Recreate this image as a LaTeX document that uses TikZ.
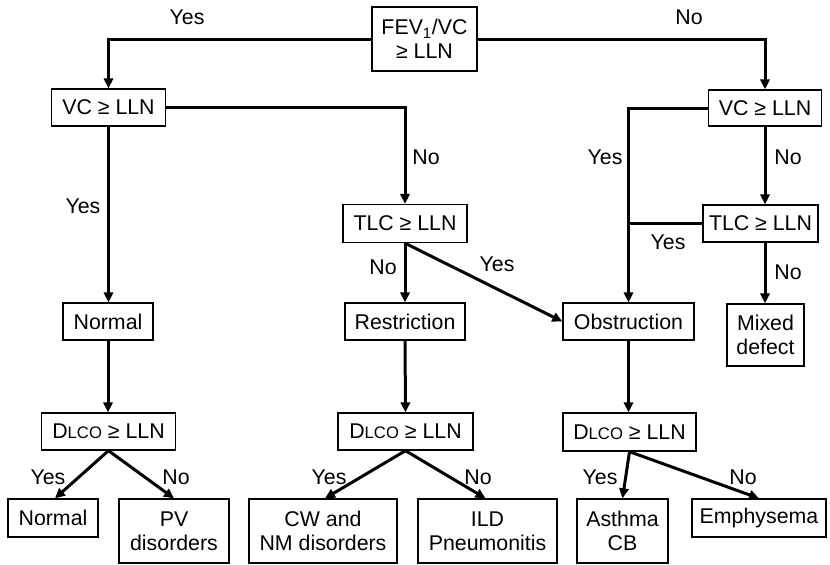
\documentclass[tikz,border=0pt]{standalone}
\usepackage{fontspec}
\setmainfont{Liberation Sans}
\usetikzlibrary{arrows.meta}
\newcommand{\dlco}{D{\fontsize{12.5}{14}\selectfont LCO}}
\begin{document}
\begin{tikzpicture}[x=0.75pt,y=-0.75pt,
  box/.style={draw, line width=1pt, inner sep=0pt, align=center, font=\fontsize{16}{19}\selectfont},
  conn/.style={line width=2.25pt},
  arr/.style={line width=2.25pt, -{Triangle[length=7.5pt,width=7pt]}},
  lbl/.style={font=\fontsize{16}{19}\selectfont, inner sep=0pt}]
\useasboundingbox (0,0) rectangle (830,564);
% nodes
\node[box, minimum width=105*0.75pt, minimum height=64*0.75pt] (fev) at (424.5,39) {FEV\textsubscript{1}/VC\\[-1pt]≥ LLN};
\node[box, minimum width=114*0.75pt, minimum height=37*0.75pt] (vc1) at (108.5,107.5) {VC ≥ LLN};
\node[box, minimum width=113*0.75pt, minimum height=36*0.75pt] (vc2) at (765,108) {VC ≥ LLN};
\node[box, minimum width=124*0.75pt, minimum height=38*0.75pt] (tlc1) at (405,223.5) {TLC ≥ LLN};
\node[box, minimum width=115*0.75pt, minimum height=37*0.75pt] (tlc2) at (760.5,223.5) {TLC ≥ LLN};
\node[box, minimum width=90*0.75pt, minimum height=37*0.75pt] (norm1) at (108,321.5) {Normal};
\node[box, minimum width=120*0.75pt, minimum height=37*0.75pt] (restr) at (405,321.5) {Restriction};
\node[box, minimum width=131*0.75pt, minimum height=37*0.75pt] (obst) at (628.5,321.5) {Obstruction};
\node[box, minimum width=77*0.75pt, minimum height=62*0.75pt] (mixed) at (765.5,335) {Mixed\\[-1pt]defect};
\node[box, minimum width=134*0.75pt, minimum height=37*0.75pt] (dl1) at (108.5,431.5) {\dlco{} ≥ LLN};
\node[box, minimum width=135*0.75pt, minimum height=37*0.75pt] (dl2) at (405.5,431.5) {\dlco{} ≥ LLN};
\node[box, minimum width=133*0.75pt, minimum height=38*0.75pt] (dl3) at (629.5,432) {\dlco{} ≥ LLN};
\node[box, minimum width=90*0.75pt, minimum height=38*0.75pt] (normal2) at (53,518) {Normal};
\node[box, minimum width=110*0.75pt, minimum height=64*0.75pt] (pv) at (174,531) {PV\\[-1pt]disorders};
\node[box, minimum width=148*0.75pt, minimum height=64*0.75pt] (cw) at (323,531) {CW and\\[-1pt]NM disorders};
\node[box, minimum width=139*0.75pt, minimum height=64*0.75pt] (ild) at (487.5,531) {ILD\\[-1pt]Pneumonitis};
\node[box, minimum width=91*0.75pt, minimum height=64*0.75pt] (asth) at (622.5,531) {Asthma\\[-1pt]CB};
\node[box, minimum width=134*0.75pt, minimum height=38*0.75pt] (emph) at (759,518) {Emphysema};
% connectors
\draw[arr] (fev.west) -| (vc1.south |- vc1.north);
\draw[arr] (fev.east) -| (vc2.north);
\draw[arr] (vc1.east) -| (tlc1.north);
\draw[arr] (vc1.south) -- (vc1.south |- norm1.north);
\draw[arr] (tlc1.south) -- (restr.north);
\draw[arr] (tlc1.south) -- (obst.west);
\draw[arr] (vc2.west) -| (obst.north);
\draw[conn] (tlc2.west) -- (tlc2.west -| obst.north);
\draw[arr] (vc2.south) -- (vc2.south |- tlc2.north);
\draw[arr] (vc2.south |- tlc2.south) -- (vc2.south |- mixed.north);
\draw[arr] (norm1.south) -- (norm1.south |- dl1.north);
\draw[arr] (restr.south) -- (dl2.north);
\draw[arr] (obst.south) -- (obst.south |- dl3.north);
\draw[arr] (dl1.south) -- ([xshift=1.5pt]normal2.north);
\draw[arr] (dl1.south) -- (pv.north);
\draw[arr] (dl2.south) -- ([xshift=1.5pt]cw.north);
\draw[arr] (dl2.south) -- ([xshift=-1.5pt]ild.north);
\draw[arr] (dl3.south) -- (asth.north);
\draw[arr] (dl3.south) -- (emph.north);
% labels
\node[lbl] (l1) at (187,17) {Yes};
\node[lbl] (l2) at (689,17) {No};
\node[lbl] (l3) at (83,206) {Yes};
\node[lbl] (l4) at (426,157) {No};
\node[lbl] (l5) at (383,267) {No};
\node[lbl] (l6) at (497,264) {Yes};
\node[lbl] (l7) at (605,157) {Yes};
\node[lbl] (l8) at (788,157) {No};
\node[lbl] (l9) at (668,242) {Yes};
\node[lbl] (l10) at (788,272) {No};
\node[lbl] (l11) at (48,477) {Yes};
\node[lbl] (l12) at (176,477) {No};
\node[lbl] (l13) at (329,477) {Yes};
\node[lbl] (l14) at (478,477) {No};
\node[lbl] (l15) at (600,477) {Yes};
\node[lbl] (l16) at (743,477) {No};
\end{tikzpicture}
\end{document}
